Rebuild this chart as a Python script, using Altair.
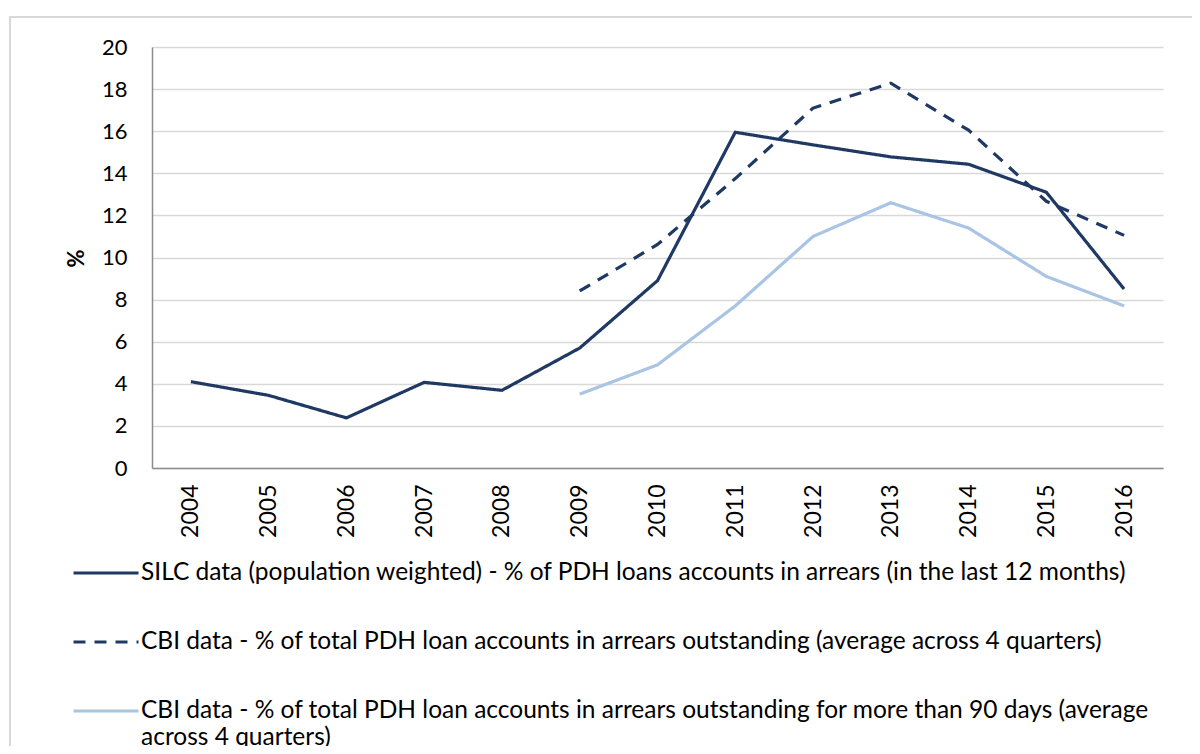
import altair as alt
import pandas as pd

years = ["2004", "2005", "2006", "2007", "2008", "2009", "2010",
         "2011", "2012", "2013", "2014", "2015", "2016"]

series_names = [
    "SILC data (population weighted) - % of PDH loans accounts in arrears (in the last 12 months)",
    "CBI data - % of total PDH loan accounts in arrears outstanding (average across 4 quarters)",
    "CBI data - % of total PDH loan accounts in arrears outstanding for more than 90 days (average across 4 quarters)",
]
third_label_lines = [
    "CBI data - % of total PDH loan accounts in arrears outstanding for more than 90 days (average",
    "across 4 quarters)",
]

silc = [4.1, 3.45, 2.38, 4.07, 3.69, 5.7, 8.9, 15.95, 15.35, 14.78, 14.43, 13.1, 8.5]
cbi_total = [None, None, None, None, None, 8.41, 10.62, 13.75, 17.1, 18.28, 16.05, 12.67, 11.05]
cbi_90 = [None, None, None, None, None, 3.51, 4.9, 7.7, 11.0, 12.6, 11.4, 9.1, 7.7]

colors = ["#1F3864", "#1F3864", "#A9C4E4"]
dashes = [[1, 0], [12, 9], [1, 0]]

rows = []
for name, vals in zip(series_names, [silc, cbi_total, cbi_90]):
    for y, v in zip(years, vals):
        if v is not None:
            rows.append({"year": y, "value": v, "series": name})
df = pd.DataFrame(rows)

FONT = "Lato"

label_expr = (
    "datum.label == '" + series_names[2] + "' ? ['"
    + third_label_lines[0] + "', '" + third_label_lines[1] + "'] : datum.label"
)

lines = alt.Chart(df).mark_line(strokeWidth=3.2, strokeCap="butt", strokeJoin="miter").encode(
    x=alt.X("year:O", scale=alt.Scale(type="point", padding=0.5, domain=years),
            axis=alt.Axis(title=None, labelAngle=-90, labelFont=FONT, labelFontSize=23,
                          labelColor="#000000", ticks=False, tickSize=0, labelPadding=16,
                          domainColor="#8C8C8C", domainWidth=1.5, grid=False)),
    y=alt.Y("value:Q", scale=alt.Scale(domain=[0, 20], nice=False),
            axis=alt.Axis(title="%", values=list(range(0, 21, 2)), labelFont=FONT,
                          labelFontSize=22, labelColor="#000000", ticks=False, tickSize=0,
                          labelPadding=25, domainColor="#8C8C8C", domainWidth=1.5,
                          gridColor="#D9D9D9", gridWidth=1.5,
                          titleFont=FONT, titleFontSize=22, titleFontWeight="bold",
                          titleColor="#000000", titleX=-76, titleY=211, titleAngle=-90,
                          titleAlign="center", titleBaseline="middle")),
    color=alt.Color("series:N", scale=alt.Scale(domain=series_names, range=colors),
                    sort=series_names,
                    legend=alt.Legend(title=None, orient="none", legendX=-80, legendY=492,
                                      direction="vertical", symbolType="stroke",
                                      symbolSize=4225, symbolStrokeWidth=3,
                                      labelFont=FONT, labelFontSize=24.5, labelColor="#000000",
                                      labelLimit=1200, rowPadding=23, padding=0,
                                      labelOffset=1, labelExpr=label_expr)),
    strokeDash=alt.StrokeDash("series:N", scale=alt.Scale(domain=series_names, range=dashes),
                              sort=series_names, legend=None),
)

frame_df = pd.DataFrame({"f": [0]})
frame = alt.Chart(frame_df).mark_rect(fill="transparent", stroke="#D9D9D9", strokeWidth=2).encode(
    x=alt.value(-142), x2=alt.value(1200), y=alt.value(-30), y2=alt.value(800)
)

chart = alt.layer(frame, lines).properties(
    width=1011, height=421,
    autosize=alt.AutoSizeParams(type="none"),
    padding={"left": 144, "top": 39, "right": 29, "bottom": 278},
).configure_view(stroke=None)

chart.save("out.html", embed_options={"renderer": "svg", "actions": False})
